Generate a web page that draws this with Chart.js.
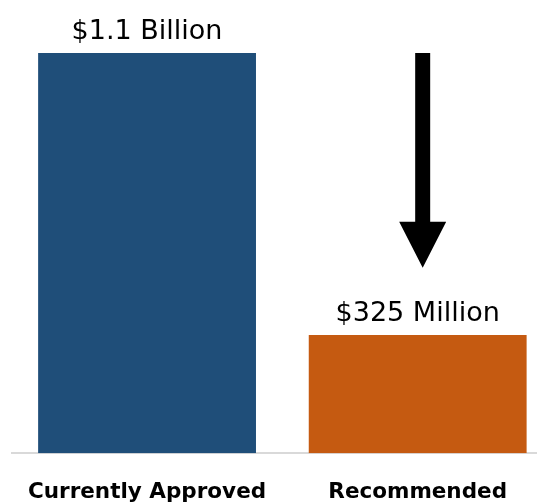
<!DOCTYPE html>
<html>
<head>
<meta charset="utf-8">
<script src="https://cdn.jsdelivr.net/npm/chart.js@4.4.1/dist/chart.umd.min.js"></script>
<style>
  html, body { margin: 0; padding: 0; background: #fff; overflow: hidden; }
  #wrap { width: 553px; height: 502px; }
</style>
</head>
<body>
<div id="wrap"><canvas id="funding-chart"></canvas></div>
<script>
// funding levels, in $ millions
const categories = ['Currently Approved', 'Recommended'];
const amounts    = [1100, 325];
const amountText = ['$1.1 Billion', '$325 Million'];
const barColors  = ['#1F4E79', '#C55A11'];

// downward arrow over the recommended bar, in $ millions
const arrowFrom = 1100;
const arrowTo   = 510;

const FONT = '"DejaVu Sans", sans-serif';

// value captions above each bar
const valueLabels = {
  id: 'valueLabels',
  afterDatasetsDraw(chart) {
    const ctx = chart.ctx;
    const meta = chart.getDatasetMeta(0);
    ctx.save();
    ctx.fillStyle = '#000';
    ctx.font = '27px ' + FONT;
    ctx.textAlign = 'center';
    ctx.textBaseline = 'alphabetic';
    meta.data.forEach((bar, i) => {
      ctx.fillText(amountText[i], bar.x, bar.y - 14);
    });
    ctx.restore();
  }
};

// block arrow pointing down toward the recommended bar
const dropArrow = {
  id: 'dropArrow',
  afterDatasetsDraw(chart) {
    const ctx = chart.ctx;
    const y = chart.scales.y;
    const bar = chart.getDatasetMeta(0).data[1];
    const cx = bar.x + 5;
    const top = y.getPixelForValue(arrowFrom);
    const tip = y.getPixelForValue(arrowTo);
    const headH = 46, headW = 47, shaftW = 15;
    ctx.save();
    ctx.fillStyle = '#000';
    ctx.beginPath();
    ctx.moveTo(cx - shaftW / 2, top);
    ctx.lineTo(cx + shaftW / 2, top);
    ctx.lineTo(cx + shaftW / 2, tip - headH);
    ctx.lineTo(cx + headW / 2, tip - headH);
    ctx.lineTo(cx, tip);
    ctx.lineTo(cx - headW / 2, tip - headH);
    ctx.lineTo(cx - shaftW / 2, tip - headH);
    ctx.closePath();
    ctx.fill();
    ctx.restore();
  }
};

new Chart(document.getElementById('funding-chart'), {
  type: 'bar',
  data: {
    labels: categories,
    datasets: [{
      data: amounts,
      backgroundColor: barColors,
      borderWidth: 0,
      barPercentage: 0.805,
      categoryPercentage: 1
    }]
  },
  options: {
    responsive: true,
    maintainAspectRatio: false,
    animation: false,
    layout: { padding: { top: 53, left: 8, right: 0, bottom: -29 } },
    plugins: { legend: { display: false }, tooltip: { enabled: false } },
    scales: {
      x: {
        grid: { display: false, drawTicks: false },
        border: { display: true, color: '#D9D9D9', width: 2 },
        ticks: {
          color: '#000',
          padding: 26,
          font: { family: FONT, size: 21.5, weight: 'bold' }
        }
      },
      y: {
        display: false,
        min: 0,
        max: 1100
      }
    }
  },
  plugins: [valueLabels, dropArrow]
});
</script>
</body>
</html>
